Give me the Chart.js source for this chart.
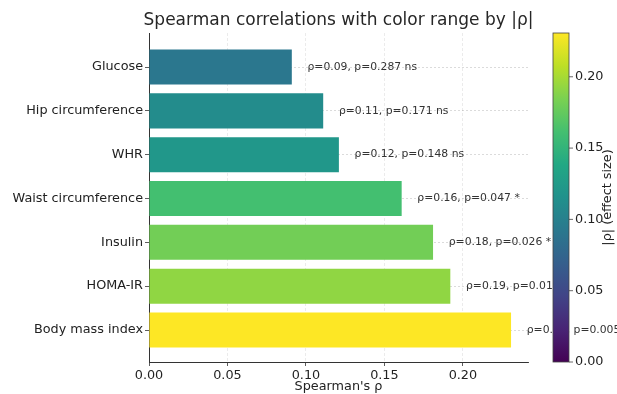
<!DOCTYPE html>
<html>
<head>
<meta charset="utf-8">
<script src="https://cdn.jsdelivr.net/npm/chart.js@4.4.0/dist/chart.umd.min.js"></script>
<style>
  html, body { margin: 0; padding: 0; background: #fff; }
</style>
</head>
<body>
<canvas id="chart" width="617" height="394"></canvas>
<script>
const categories = ["Glucose", "Hip circumference", "WHR", "Waist circumference", "Insulin", "HOMA-IR", "Body mass index"];
const rho = [0.091, 0.111, 0.121, 0.161, 0.181, 0.192, 0.2307];
const pValues = [0.287, 0.171, 0.148, 0.047, 0.026, 0.014, 0.005];
const significance = ["ns", "ns", "ns", "*", "*", "*", "**"];
const xTicks = [0, 0.05, 0.1, 0.15, 0.2];
const colorbarTicks = [0, 0.05, 0.1, 0.15, 0.2];

const cbMax = Math.max(...rho);

// viridis colormap stops
const viridisStops = ["#440154", "#482475", "#414487", "#355f8d", "#2a788e", "#21918c",
  "#22a884", "#44bf70", "#7ad151", "#bddf26", "#fde725"];

function hexToRgb(h) {
  return [1, 3, 5].map(i => parseInt(h.slice(i, i + 2), 16));
}

function viridis(t) {
  t = Math.min(1, Math.max(0, t));
  const pos = t * (viridisStops.length - 1);
  const i = Math.min(Math.floor(pos), viridisStops.length - 2);
  const f = pos - i;
  const a = hexToRgb(viridisStops[i]);
  const b = hexToRgb(viridisStops[i + 1]);
  const c = a.map((v, k) => Math.round(v + (b[k] - v) * f));
  return `rgb(${c[0]}, ${c[1]}, ${c[2]})`;
}

Chart.defaults.font.family = "'DejaVu Sans', sans-serif";

const extras = {
  id: "extras",
  afterDatasetsDraw(chart) {
    const { ctx, scales: { x, y } } = chart;
    ctx.save();
    ctx.font = "10.8px 'DejaVu Sans'";
    ctx.fillStyle = "#333";
    ctx.textBaseline = "middle";
    rho.forEach((v, i) => {
      const label = `ρ=${v.toFixed(2)}, p=${pValues[i].toFixed(3)} ${significance[i]}`;
      ctx.fillText(label, x.getPixelForValue(v + 0.01), y.getPixelForValue(i));
    });
    ctx.restore();
  },
  afterDraw(chart) {
    const { ctx, chartArea, scales: { cb } } = chart;
    const left = cb.left + 25, w = 16;
    const top = cb.getPixelForValue(cbMax), bottom = cb.getPixelForValue(0);
    ctx.save();
    const g = ctx.createLinearGradient(0, bottom, 0, top);
    viridisStops.forEach((c, i) => g.addColorStop(i / (viridisStops.length - 1), c));
    ctx.fillStyle = g;
    ctx.fillRect(left, top, w, bottom - top);
    ctx.strokeStyle = "#444";
    ctx.lineWidth = 0.8;
    ctx.strokeRect(left, top, w, bottom - top);
    // colorbar tick marks
    ctx.beginPath();
    colorbarTicks.forEach(v => {
      const py = cb.getPixelForValue(v);
      ctx.moveTo(left + w, py);
      ctx.lineTo(left + w + 4, py);
    });
    ctx.stroke();
    // colorbar label
    ctx.fillStyle = "#222";
    ctx.font = "12.8px 'DejaVu Sans'";
    ctx.textAlign = "center";
    ctx.textBaseline = "middle";
    ctx.save();
    ctx.translate(608, (top + bottom) / 2);
    ctx.rotate(-Math.PI / 2);
    ctx.fillText("|ρ| (effect size)", 0, 0);
    ctx.restore();
    // title
    ctx.font = "17px 'DejaVu Sans'";
    ctx.fillStyle = "#262626";
    ctx.fillText("Spearman correlations with color range by |ρ|", (chartArea.left + chartArea.right) / 2, 21);
    ctx.restore();
  }
};

new Chart(document.getElementById("chart"), {
  type: "bar",
  data: {
    datasets: [{
      data: rho.map((v, i) => ({ x: v, y: i })),
      backgroundColor: rho.map(v => viridis(v / cbMax)),
      categoryPercentage: 1,
      barPercentage: 0.8
    }]
  },
  options: {
    indexAxis: "y",
    responsive: false,
    animation: false,
    layout: { padding: { top: 33, left: 0, right: 0, bottom: 0 } },
    plugins: { legend: { display: false }, tooltip: { enabled: false } },
    scales: {
      x: {
        type: "linear",
        position: "bottom",
        min: 0,
        max: 0.2415,
        afterBuildTicks: s => { s.ticks = xTicks.map(v => ({ value: v })); },
        afterFit: s => { s.height = 32; },
        grid: { color: "rgba(0,0,0,0.1)", tickColor: "#333", tickLength: 4, lineWidth: 0.8 },
        border: { color: "#333", width: 1, dash: [3, 2] },
        ticks: { callback: v => v.toFixed(2), color: "#222", font: { size: 12.8 }, padding: 2, maxRotation: 0, autoSkip: false },
        title: { display: true, text: "Spearman's ρ", color: "#222", font: { size: 12.8 }, padding: 0 }
      },
      y: {
        type: "linear",
        reverse: true,
        offset: false,
        min: -0.776,
        max: 6.73,
        afterBuildTicks: s => { s.ticks = categories.map((_, i) => ({ value: i })); },
        afterFit: s => { s.width = 149; },
        grid: { offset: false, color: "rgba(0,0,0,0.18)", tickColor: "#333", tickLength: 4, lineWidth: 0.8 },
        border: { color: "#333", width: 1, dash: [2, 2] },
        ticks: { callback: v => categories[Math.round(v)], color: "#222", font: { size: 12.8 }, padding: 2, autoSkip: false }
      },
      cb: {
        type: "linear",
        position: "right",
        offset: false,
        min: 0,
        max: cbMax,
        afterBuildTicks: s => { s.ticks = colorbarTicks.map(v => ({ value: v })); },
        afterFit: s => { s.width = 89; },
        grid: { offset: false, display: false, drawTicks: true, tickLength: 44 },
        border: { display: false },
        ticks: { callback: v => v.toFixed(2), color: "#222", font: { size: 12.8 }, padding: 3, autoSkip: false }
      }
    }
  },
  plugins: [extras]
});
</script>
</body>
</html>
